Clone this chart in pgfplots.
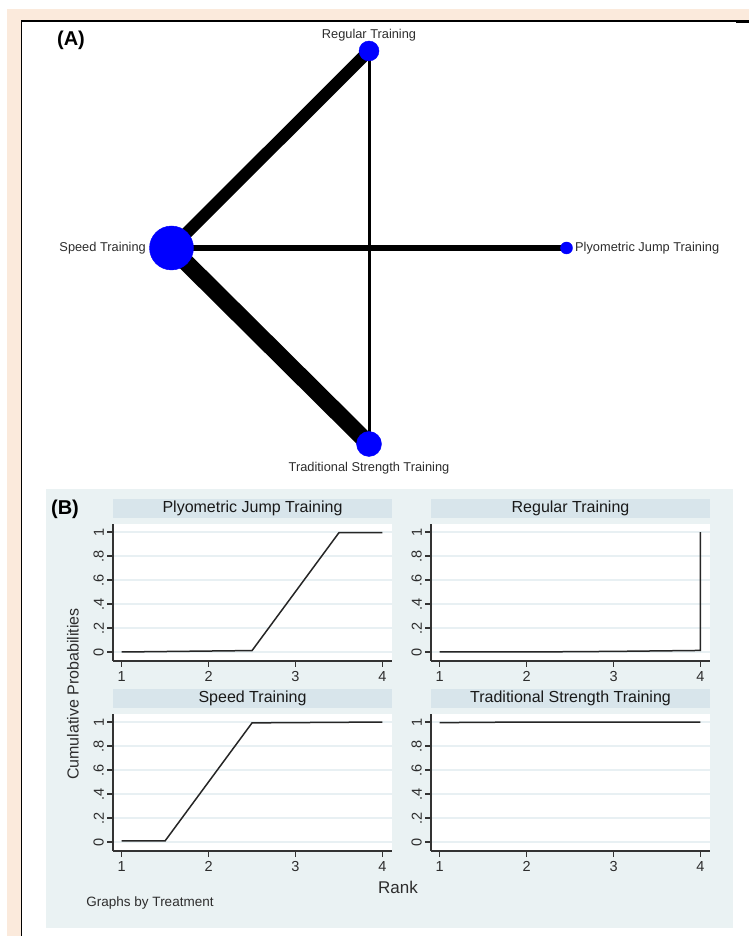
\documentclass[border=0pt]{standalone}
\usepackage{fontspec}
\setmainfont{Liberation Sans}
\usepackage{pgfplots}
\pgfplotsset{compat=1.18}
\definecolor{peach}{RGB}{251,234,220}
\definecolor{panelbg}{RGB}{234,242,243}
\definecolor{strip}{RGB}{216,229,235}
\definecolor{gridc}{RGB}{232,240,243}
\definecolor{txt}{RGB}{45,45,45}
\pgfplotsset{
 rankplot/.style={
  scale only axis, width=279pt, height=137pt,
  xmin=0.9, xmax=4.11, ymin=-0.075, ymax=1.067,
  axis lines=left, axis line style={-, black!80, line width=1.2pt},
  x axis line style={-}, y axis line style={-},
  tick align=outside, major tick length=6pt,
  tick style={black!80, line width=1.1pt},
  xtick={1,2,3,4}, ytick={0,0.2,0.4,0.6,0.8,1},
  xticklabels={1,2,3,4},
  yticklabels={0,.2,.4,.6,.8,1},
  ymajorgrids, grid style={gridc, line width=1.2pt},
  axis background/.style={fill=white},
  /pgf/number format/assume math mode=true,
  ticklabel style={font=\fontsize{14.5}{15}\selectfont, text=txt},
  yticklabel style={rotate=90, anchor=south, inner sep=3pt},
  xticklabel style={anchor=north, inner sep=4pt},
  title style={at={(0.5,1)}, anchor=south, fill=strip, minimum width=279pt, minimum height=19pt, inner sep=0pt, text=black!90, font=\fontsize{16}{16}\selectfont},
  clip=false,
 },
 rankline/.style={black!85, line width=1.5pt, mark=none},
}
\begin{document}
\begin{tikzpicture}[x=1pt,y=1pt]
\useasboundingbox (0,0) rectangle (749,936);
\fill[white] (0,0) rectangle (749,936);
\fill[peach] (7,0) rectangle (749,927);
\fill[white] (21,0) rectangle (749,915);
\draw[black, line width=1.5pt] (21.5,0) -- (21.5,915) -- (749,915);
\draw[black, line width=3pt] (736,914) -- (749,914);
\fill[panelbg] (46,8) rectangle (733,447);

\begin{axis}[at={(0pt,0pt)}, anchor=south west, scale only axis, width=749pt, height=936pt,
  xmin=0, xmax=749, ymin=0, ymax=936, hide axis, clip=false]
 % edges
 \addplot[black, line width=17pt, mark=none] coordinates {(171.5,688) (369,492)};
 \addplot[black, line width=12pt, mark=none] coordinates {(171.5,688) (369,885)};
 \addplot[black, line width=6pt, mark=none] coordinates {(171.5,688) (566.5,688)};
 \addplot[black, line width=3pt, mark=none] coordinates {(369,885) (369,492)};
 % nodes
 \addplot[only marks, mark=*, mark size=22pt, mark options={draw=blue, fill=blue}] coordinates {(171.5,688)};
 \addplot[only marks, mark=*, mark size=10pt, mark options={draw=blue, fill=blue}] coordinates {(369,885)};
 \addplot[only marks, mark=*, mark size=6pt, mark options={draw=blue, fill=blue}] coordinates {(566.5,688)};
 \addplot[only marks, mark=*, mark size=12.5pt, mark options={draw=blue, fill=blue}] coordinates {(369,492)};
 % labels
 \node[font=\fontsize{12.8}{13}\selectfont, text=txt] at (axis cs:369,901) {Regular Training};
 \node[font=\fontsize{12.8}{13}\selectfont, text=txt, anchor=east, inner sep=0pt] at (axis cs:146,688) {Speed Training};
 \node[font=\fontsize{12.8}{13}\selectfont, text=txt, anchor=west, inner sep=0pt] at (axis cs:575,688) {Plyometric Jump Training};
 \node[font=\fontsize{12.8}{13}\selectfont, text=txt] at (axis cs:369,468) {Traditional Strength Training};
 \node[font=\fontsize{20}{20}\selectfont\bfseries] at (axis cs:71,896) {(A)};
 \node[font=\fontsize{20}{20}\selectfont\bfseries] at (axis cs:65,427) {(B)};
 \node[font=\fontsize{16}{16}\selectfont, text=txt, rotate=90] at (axis cs:73,242) {Cumulative Probabilities};
 \node[font=\fontsize{17}{17}\selectfont, text=txt] at (axis cs:398,49) {Rank};
 \node[font=\fontsize{13.5}{14}\selectfont, text=txt] at (axis cs:150,33) {Graphs by Treatment};
\end{axis}

\begin{axis}[rankplot, at={(113pt,275pt)}, anchor=south west, title={Plyometric Jump Training}]
 \addplot[rankline] coordinates {(1,0) (2.5,0.012) (3.5,0.995) (4,0.995)};
\end{axis}
\begin{axis}[rankplot, at={(431pt,275pt)}, anchor=south west, title={Regular Training}]
 \addplot[rankline] coordinates {(1,0) (2,0) (3,0.005) (4,0.013) (4,1)};
\end{axis}
\begin{axis}[rankplot, at={(113pt,85pt)}, anchor=south west, title={Speed Training}]
 \addplot[rankline] coordinates {(1,0.01) (1.5,0.01) (2.5,0.993) (4,1)};
\end{axis}
\begin{axis}[rankplot, at={(431pt,85pt)}, anchor=south west, title={Traditional Strength Training}]
 \addplot[rankline] coordinates {(1,0.995) (2,1) (4,1)};
\end{axis}
\end{tikzpicture}
\end{document}
